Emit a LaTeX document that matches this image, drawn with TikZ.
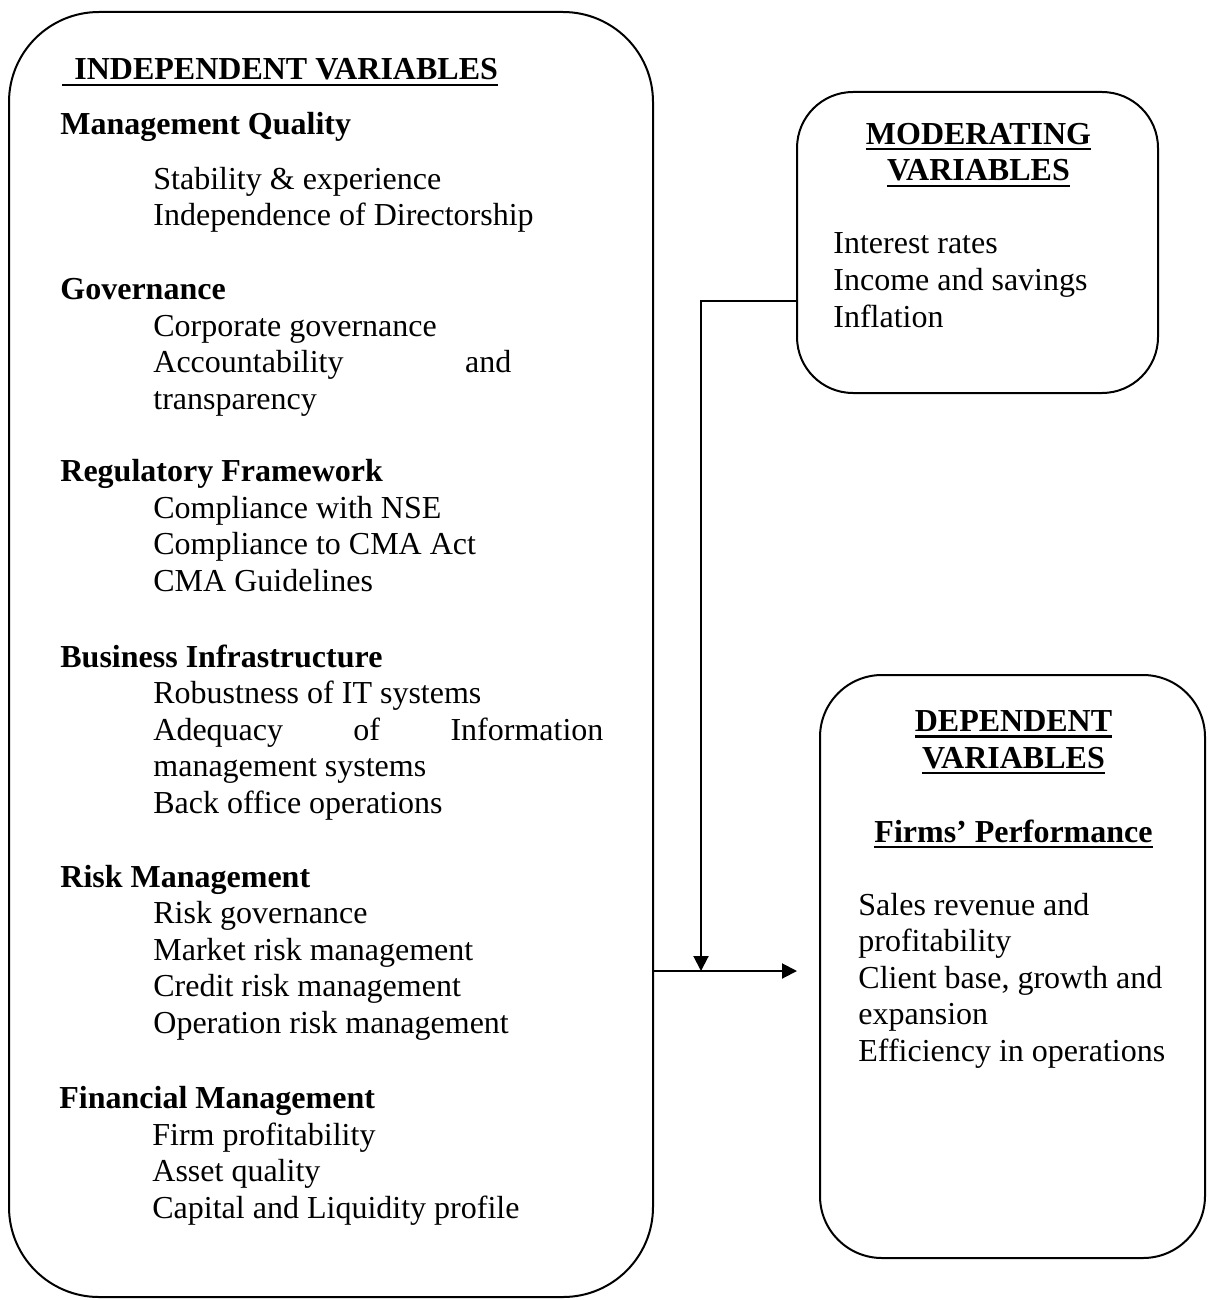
\documentclass[tikz,border=0pt]{standalone}
\usepackage{fontspec}
\setmainfont{Liberation Serif}
\usepackage{tikz}
\usetikzlibrary{arrows.meta,positioning,calc}
\tikzstyle{varbox}=[draw, line width=1pt, inner sep=0pt]
\tikzstyle{bigbox}=[varbox, minimum width=322pt, minimum height=642.5pt, rounded corners=45pt]
\tikzstyle{modbox}=[varbox, minimum width=180.5pt, minimum height=150.5pt, rounded corners=28pt]
\tikzstyle{depbox}=[varbox, minimum width=192.5pt, minimum height=291.5pt, rounded corners=31pt]
\tikzstyle{txt}=[anchor=base west, inner sep=0pt, align=left, font=\fontsize{16}{18.25}\selectfont]
\tikzstyle{head}=[txt, anchor=base, align=center, font=\fontsize{16}{18.25}\selectfont\bfseries]
\tikzstyle{line}=[draw, line width=1pt, -{Triangle[length=7.5pt,width=7.5pt]}]
\newcommand{\sect}[4]{node (#1)[txt]{\textbf{#2}\\[#3]#4}}
\newcommand{\itm}{\hspace*{46.5pt}}
\newcommand{\undl}[1]{\leavevmode\setbox0=\hbox{#1}\rlap{\rule[-3pt]{\wd0}{1.2pt}}\box0}

\begin{document}
\begin{tikzpicture}[x=0.5pt,y=-0.5pt]
	\useasboundingbox (0,0) rectangle (1207,1300);
	
	% Draw the three boxes
	\node (indep) [bigbox] at (331,654.5) {};
	\node (moder) [modbox] at (977.5,242.5) {};
	\node (depend) [depbox] at (1012.5,966.5) {};
	
	% Independent variables (nodes sit on the baseline of their last line)
	\node (indtitle) [txt, font=\fontsize{16}{18.25}\selectfont\bfseries] at (62,80) {\undl{\hspace*{6pt}INDEPENDENT VARIABLES}};
	\path (60,226) \sect{mq}{Management Quality}{9.25pt}{\itm Stability \& experience\\\itm Independence of Directorship};
	\path (60,409) \sect{gov}{Governance}{0pt}{\itm Corporate governance\\\itm \makebox[179pt][s]{Accountability and}\\\itm transparency};
	\path (60,591) \sect{reg}{Regulatory Framework}{0pt}{\itm Compliance with NSE\\\itm Compliance to CMA Act\\\itm CMA Guidelines};
	\path (60,813) \sect{bus}{Business Infrastructure}{0pt}{\itm Robustness of IT systems\\\itm \makebox[225pt][s]{Adequacy of Information}\\\itm management systems\\\itm Back office operations};
	\path (60,1033) \sect{risk}{Risk Management}{0pt}{\itm Risk governance\\\itm Market risk management\\\itm Credit risk management\\\itm Operation risk management};
	\path (59,1218) \sect{fin}{Financial Management}{0pt}{\itm Firm profitability\\\itm Asset quality\\\itm Capital and Liquidity profile};
	
	% Moderating variables
	\node (modtitle) [head] at (978.5,181) {\undl{MODERATING}\\\undl{VARIABLES}};
	\node (modlist) [txt] at (833,327) {Interest rates\\Income and savings\\Inflation};
	
	% Dependent variables
	\node (deptitle) [head] at (1013.5,768) {\undl{DEPENDENT}\\\undl{VARIABLES}};
	\node (perf) [head] at (1013.5,842) {\undl{Firms' Performance}};
	\node (deplist) [txt] at (858,1061) {Sales revenue and\\profitability\\Client base, growth and\\expansion\\Efficiency in operations};
	
	% Draw arrows between elements
	\coordinate (meet) at (701,971);
	\coordinate (tip) at (797,971);
	\path [line] (indep.east |- meet) -- (tip);
	\path [line] ([yshift=-29.25pt]moder.west) -| (meet);
\end{tikzpicture}
\end{document}
